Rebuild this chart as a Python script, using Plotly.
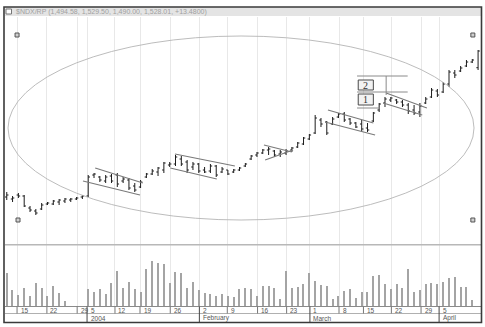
import plotly.graph_objects as go

W, H = 485, 327

# ---------------- data (trading-day slots) ----------------
slot = list(range(82))
high = [1246,1238,1244,1240,1218,1212,1224,1226,1230,1232,1234,1234,1236,1240,
        1280,1284,1278,1280,1282,1284,1276,1274,1264,1270,
        1284,1292,1296,1306,1306,1320,1318,1310,1306,1304,
        1296,1302,1300,1296,1290,1292,1296,1304,1320,1326,
        1332,1336,1330,1330,1332,1336,1346,1356,1362,1400,
        1394,1388,1396,1404,1406,1394,1386,1390,1384,1406,
        1424,1436,1436,1432,1430,1424,1420,1424,1436,1454,
        1452,1466,1490,1490,1498,1510,1512,1530]
low = [1230,1226,1234,1216,1206,1200,1210,1220,1220,1220,1224,1226,1230,1232,
       1236,1274,1266,1264,1264,1256,1264,1250,1246,1254,
       1274,1280,1278,1284,1296,1298,1298,1284,1290,1284,
       1284,1284,1276,1284,1280,1284,1288,1296,1310,1316,
       1322,1320,1316,1316,1320,1326,1334,1340,1350,1362,
       1376,1360,1380,1394,1386,1380,1374,1366,1366,1386,
       1406,1416,1426,1422,1416,1402,1400,1396,1422,1434,
       1436,1444,1456,1474,1486,1496,1504,1490]
open_ = [1236,1232,1240,1238,1214,1208,1212,1222,1222,1226,1228,1230,1232,1236,
         1238,1280,1276,1268,1278,1280,1268,1270,1258,1256,
         1276,1282,1286,1290,1300,1302,1312,1306,1296,1302,
         1290,1288,1298,1286,1290,1286,1290,1298,1312,1320,
         1324,1330,1328,1322,1324,1330,1336,1342,1352,1364,
         1390,1386,1382,1396,1402,1392,1384,1382,1374,1388,
         1410,1424,1430,1430,1426,1420,1410,1406,1424,1436,
         1448,1446,1462,1484,1488,1498,1506,1494.58]
close = [1240,1234,1238,1218,1210,1204,1220,1224,1228,1230,1232,1232,1234,1238,
         1276,1282,1270,1276,1268,1262,1272,1254,1250,1266,
         1282,1288,1294,1304,1302,1316,1302,1290,1302,1288,
         1286,1298,1280,1292,1282,1290,1294,1302,1318,1324,
         1330,1332,1320,1326,1328,1334,1344,1354,1360,1394,
         1382,1364,1392,1402,1390,1384,1376,1372,1370,1404,
         1422,1432,1434,1426,1420,1408,1404,1418,1432,1450,
         1440,1462,1486,1480,1494,1506,1510,1528.01]
volume = [330,160,110,180,100,230,180,100,200,130,50,None,None,None,
          170,140,170,120,230,350,180,240,170,140,
          370,450,430,420,230,340,330,180,240,160,
          130,120,100,120,100,90,170,180,170,100,
          200,200,180,70,350,180,190,220,330,250,
          210,200,70,100,150,170,80,140,140,300,
          310,220,170,220,180,370,140,160,220,230,
          220,240,280,290,190,190,60,None]

tick_pos = [1.77, 6.9, 12.1, 13.8, 18.6, 22.9, 28.1, 33.1, 37.9, 43.1, 48.1,
            52.1, 57.1, 61.3, 66.1, 71.2, 74.3]
tick_text = ["15", "22", "29", "5", "12", "19", "26", "2", "9", "16", "23",
             "1", "8", "15", "22", "29", "5"]
month_pos = [13.8, 33.1, 52.1, 74.3]
month_text = ["2004", "February", "March", "April"]

header = "$NDX/RP (1,494.58, 1,529.50, 1,490.00, 1,528.01, +13.4800)"

# channel / pattern lines drawn by the analyst: (x0, p0, x1, p1)
channels = [
    (15.2, 1294, 23.4, 1264), (13.1, 1268, 22.9, 1240),
    (28.9, 1322, 39.2, 1298), (28.1, 1294, 36.1, 1272),
    (44.2, 1340, 49.0, 1326), (44.4, 1310, 49.2, 1330),
    (55.2, 1410, 63.0, 1384), (54.7, 1386, 63.3, 1360),
    (65.2, 1444, 72.2, 1414), (64.7, 1424, 71.4, 1400),
]
ellipse = (0.22, 1190, 80.3, 1558)
handles_x = [1.77, 80.1, 1.94, 80.1]
handles_p = [1560, 1560, 1190, 1190]

def py(p):  # pixel row -> paper fraction
    return 1 - p / H

def px(p):
    return p / W

fig = go.Figure()
fig.add_trace(go.Ohlc(
    x=slot, open=open_, high=high, low=low, close=close,
    increasing=dict(line=dict(color="#1c1c1c", width=1)),
    decreasing=dict(line=dict(color="#1c1c1c", width=1)),
    tickwidth=0.3, hoverinfo="skip", xaxis="x", yaxis="y", showlegend=False))
fig.add_trace(go.Bar(
    x=slot, y=volume, width=0.2, marker=dict(color="#a4a4a4", line=dict(width=0)),
    xaxis="x2", yaxis="y2", hoverinfo="skip", showlegend=False))
fig.add_trace(go.Scatter(
    x=handles_x, y=handles_p, mode="markers",
    marker=dict(symbol="square", size=4, color="#d0d0d0", line=dict(color="#555", width=1)),
    xaxis="x", yaxis="y", hoverinfo="skip", showlegend=False))

xr = [-0.3, 81.5]
xdom = [px(5), px(481)]
common_x = dict(range=xr, domain=xdom, tickmode="array", tickvals=tick_pos,
                showgrid=True, gridcolor="#e8e8e8", gridwidth=1, showticklabels=False,
                ticks="", zeroline=False, showline=False, fixedrange=True)
fig.update_layout(
    width=W, height=H, autosize=False,
    margin=dict(l=0, r=0, t=0, b=0),
    paper_bgcolor="white", plot_bgcolor="white",
    xaxis=dict(anchor="y", rangeslider=dict(visible=False), **common_x),
    xaxis2=dict(anchor="y2", matches="x", **common_x),
    yaxis=dict(domain=[py(244.5), py(17)], range=[1141, 1596], showgrid=False,
               showticklabels=False, zeroline=False, fixedrange=True),
    yaxis2=dict(domain=[py(306), py(245)], range=[0, 610], showgrid=False,
                showticklabels=False, zeroline=False, fixedrange=True),
    bargap=0,
)

shapes = []
# ellipse
shapes.append(dict(type="circle", xref="x", yref="y", x0=ellipse[0], y0=ellipse[1],
                   x1=ellipse[2], y1=ellipse[3], line=dict(color="#b4b4b4", width=0.9)))
for x0, p0, x1, p1 in channels:
    shapes.append(dict(type="line", xref="x", yref="y", x0=x0, y0=p0, x1=x1, y1=p1,
                       line=dict(color="#7a7a7a", width=1.2)))
# boxes 1 & 2 with guide lines
for x0, p0, x1, p1 in [(60.2, 1478, 68.9, 1478), (60.2, 1446, 68.9, 1446),
                       (60.2, 1414, 64.1, 1414), (65.2, 1478, 65.2, 1440)]:
    shapes.append(dict(type="line", xref="x", yref="y", x0=x0, y0=p0, x1=x1, y1=p1,
                       line=dict(color="#8a8a8a", width=1)))
for p0, p1 in [(1450, 1470), (1420, 1442)]:
    shapes.append(dict(type="rect", xref="x", yref="y", x0=60.4, x1=63.0, y0=p0, y1=p1,
                       line=dict(color="#4a4a4a", width=1), fillcolor="#f2f2f2"))
# header strip
shapes.append(dict(type="rect", xref="paper", yref="paper", x0=px(5), x1=px(481),
                   y0=py(16), y1=py(7), fillcolor="#e4e4e4", line=dict(width=0), layer="below"))
shapes.append(dict(type="rect", xref="paper", yref="paper", x0=px(6), x1=px(11.5),
                   y0=py(14), y1=py(9), fillcolor="white", line=dict(color="#777", width=1)))
# separators
shapes.append(dict(type="line", xref="paper", yref="paper", x0=px(5), x1=px(481),
                   y0=py(244.7), y1=py(244.7), line=dict(color="#b8b8b8", width=1.5)))
shapes.append(dict(type="line", xref="paper", yref="paper", x0=px(5), x1=px(481),
                   y0=py(306.5), y1=py(306.5), line=dict(color="#8a8a8a", width=1)))
shapes.append(dict(type="line", xref="paper", yref="paper", x0=px(5), x1=px(481),
                   y0=py(313.5), y1=py(313.5), line=dict(color="#b0b0b0", width=1)))
# date ticks
for t in tick_pos:
    long_tick = t in month_pos
    shapes.append(dict(type="line", xref="x", yref="paper", x0=t, x1=t,
                       y0=py(322 if long_tick else 313.5), y1=py(306.5),
                       line=dict(color="#444" if long_tick else "#777", width=1)))
# outer frame
shapes.append(dict(type="rect", xref="paper", yref="paper", x0=px(4), x1=px(481.5),
                   y0=py(322.5), y1=py(7), line=dict(color="#3a3a3a", width=1.6)))
fig.update_layout(shapes=shapes)

ann = []
ann.append(dict(xref="paper", yref="paper", x=px(13.5), y=py(11.8), text=header,
                showarrow=False, xanchor="left", yanchor="middle",
                font=dict(family="Liberation Sans, Arial", size=7, color="#a0a0a0")))
for txt, pc in [("2", 1460), ("1", 1431)]:
    ann.append(dict(xref="x", yref="y", x=61.7, y=pc, text=txt, showarrow=False,
                    xanchor="center", yanchor="middle",
                    font=dict(family="Liberation Serif, DejaVu Serif", size=10, color="#333")))
for t, txt in zip(tick_pos, tick_text):
    ann.append(dict(xref="x", yref="paper", x=t, y=py(310), text=txt, showarrow=False,
                    xanchor="left", yanchor="middle", xshift=1.5,
                    font=dict(family="Liberation Sans, Arial", size=6.5, color="#555")))
for t, txt in zip(month_pos, month_text):
    ann.append(dict(xref="x", yref="paper", x=t, y=py(318), text=txt, showarrow=False,
                    xanchor="left", yanchor="middle", xshift=1.5,
                    font=dict(family="Liberation Sans, Arial", size=6.5, color="#555")))
fig.update_layout(annotations=ann)

fig.write_html("out.html")
